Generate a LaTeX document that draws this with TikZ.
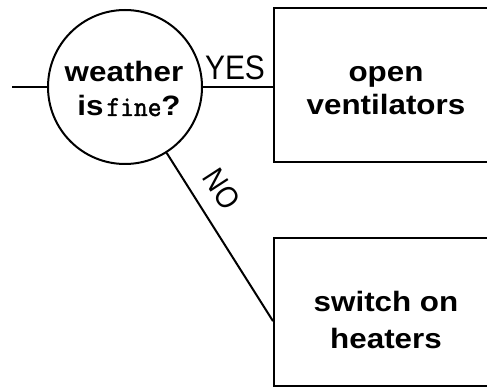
\documentclass[tikz,border=0pt]{standalone}
\usepackage{fontspec}
\setmainfont{Liberation Sans}
\newfontfamily\bsf{Liberation Sans}[FakeStretch=1.12]
\newfontfamily\ysf{Liberation Sans}[FakeStretch=0.88]
\newfontfamily\msf{Latin Modern Mono}[FakeBold=1.6,FakeStretch=0.92]
\begin{document}
\begin{tikzpicture}[x=1pt,y=-1pt,line width=2pt,
  dec/.style={circle,draw,minimum size=154pt,inner sep=0pt},
  act/.style={rectangle,draw,inner sep=0pt,anchor=north west,line width=2.2pt},
  big/.style={font=\bsf\bfseries\fontsize{28}{28}\selectfont,anchor=base,inner sep=0pt},
  ans/.style={font=\ysf\fontsize{34}{34}\selectfont,inner sep=0pt}]
\useasboundingbox (0,0) rectangle (487,387);
\clip (0,0) rectangle (487,387);
\node[dec] (q) at (125,87) {};
\node[act,minimum width=227pt,minimum height=154pt] (ua) at (273,7) {};
\node[act,minimum width=227pt,minimum height=148pt] (lb) at (273,237) {};
\node[big] (w1) at (124,82) {weather};
\node[big] (w2) at (129,116) {is\hspace{3pt}{\msf\mdseries\fontsize{29}{29}\selectfont fine}?};
\node[big] (t1) at (386,82) {open};
\node[big] (t2) at (386,115) {ventilators};
\node[big] (t3) at (386,312) {switch on};
\node[big] (t4) at (386,348) {heaters};
\node[ans,anchor=base] (yes) at (235,80) {YES};
\node[ans,rotate=-57,font=\ysf\fontsize{31}{31}\selectfont] (no) at (222,189) {NO};
\coordinate (in) at (12,87);
\draw (in) -- (q);
\draw (q) -- (ua.west |- q);
\path (lb.north west) -- (lb.south west) coordinate[pos=0.56] (nohit);
\draw (q) -- (nohit);
\end{tikzpicture}
\end{document}
